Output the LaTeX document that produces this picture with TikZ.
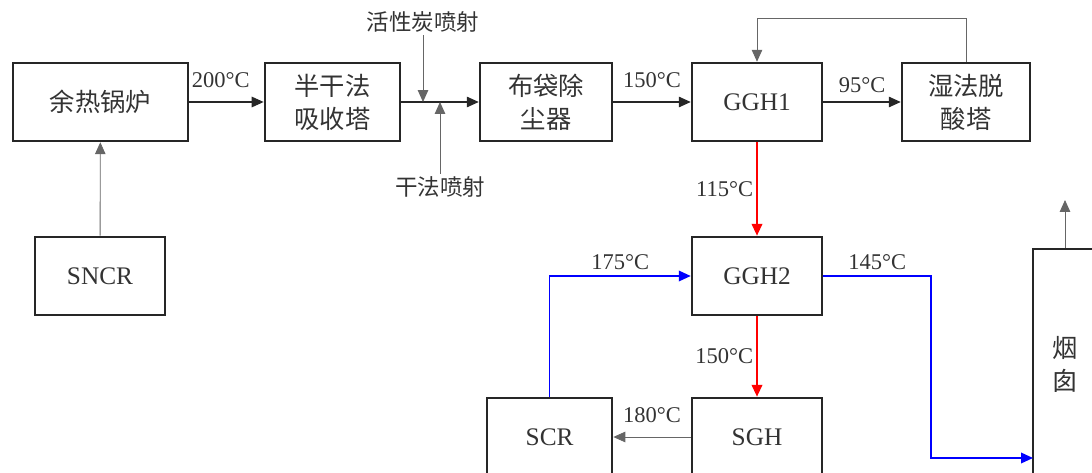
\documentclass[tikz,border=0pt]{standalone}
\usepackage{fontspec}
\setmainfont{Liberation Serif}
\newfontfamily\cjk{Noto Sans CJK SC}
\usetikzlibrary{arrows.meta}

\begin{document}
\begin{tikzpicture}[>={Triangle[length=8.5pt,width=7.5pt]},
    block/.style={draw=black!85, line width=1.8pt, minimum width=3.25cm, minimum height=1.95cm, align=center, text=black!80, font=\fontsize{18}{23}\selectfont},
    cn/.style={font=\fontsize{18}{23.5}\selectfont\cjk},
    tag/.style={font=\fontsize{16}{19}\selectfont, text=black!80, inner sep=2pt},
    cntag/.style={tag, font=\fontsize{16}{19}\selectfont\cjk},
    flow/.style={->, line width=0.8pt, black!85},
    aux/.style={->, line width=0.6pt, black!60},
    hot/.style={->, line width=1.5pt, red},
    cold/.style={->, line width=1.2pt, blue}]

    \useasboundingbox (0,0) rectangle (27.3,11.8);
    \clip (0,0) rectangle (27.3,11.8);

    % 主流程
    \node[block, cn, minimum width=4.375cm] (boiler) at (2.51, 9.25) {余热锅炉};
    \node[block, cn, minimum width=3.375cm] (absorber) at (8.31, 9.25) {半干法\\吸收塔};
    \node[block, cn, minimum width=3.3cm] (bag) at (13.65, 9.25) {布袋除\\尘器};
    \node[block] (ggh1) at (18.925, 9.25) {GGH1};
    \node[block, cn, minimum width=3.2cm] (wet) at (24.15, 9.25) {湿法脱\\酸塔};

    % 下部设备
    \node[block] (sncr) at (2.5, 4.9) {SNCR};
    \node[block] (ggh2) at (18.925, 4.9) {GGH2};
    \node[block] (sgh) at (18.925, 0.875) {SGH};
    \node[block, minimum width=3.125cm] (scr) at (13.74, 0.875) {SCR};
    \node[block, cn, minimum width=1.6cm, minimum height=5.75cm] (stack) at (26.625, 2.7) {烟\\囱};

    % 喷射
    \node[cntag] (carbon) at (10.575, 11.25) {活性炭喷射};
    \node[cntag] (dry) at (11.0, 7.125) {干法喷射};
    \coordinate (j1) at (10.575, 9.25);
    \coordinate (j2) at (11.0, 9.25);
    \coordinate (exit) at (26.625, 6.8);
    \coordinate (stackin) at (25.825, 0.35);

    % 连线
    \draw[aux] (sncr) -- (boiler);
    \draw[flow] (boiler) -- node[tag, above=8pt, xshift=-4pt] {200°C} (absorber);
    \draw[flow] (absorber) -- (bag);
    \draw[aux] (carbon) -- (j1);
    \draw[aux] (dry) -- (j2);
    \draw[flow] (bag) -- node[tag, above=8pt] {150°C} (ggh1);
    \draw[flow] (ggh1) -- node[tag, above=4pt] {95°C} (wet);
    \draw[aux] (wet.north) -- ++(0,1.075) -| (ggh1.north);
    \draw[hot] (ggh1) -- node[tag, left] {115°C} (ggh2);
    \draw[hot] (ggh2) -- node[tag, left] {150°C} (sgh);
    \draw[aux] (sgh) -- node[tag, above=8pt] {180°C} (scr);
    \draw[cold] (scr.north) |- node[tag, above=2pt, pos=0.75] {175°C} (ggh2.west);
    \draw[cold] (ggh2.east) -- node[tag, above=2pt] {145°C} ++(2.7,0) |- (stackin);
    \draw[aux] (stack.north) -- (exit);

\end{tikzpicture}
\end{document}
